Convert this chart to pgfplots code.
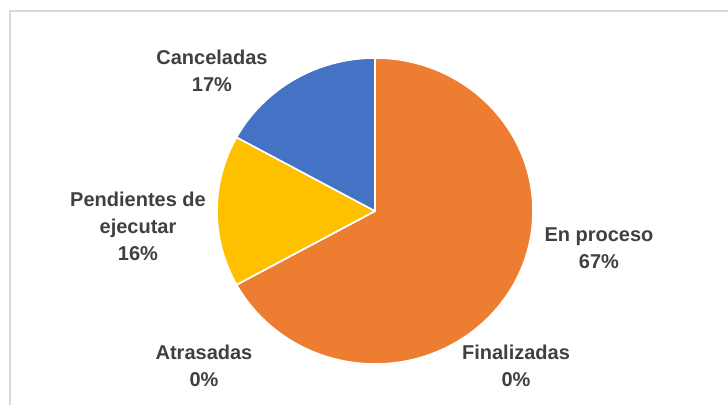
\documentclass[border=0pt]{standalone}
\usepackage{pgfplots}
\usepackage{pgfplotstable}
\pgfplotsset{compat=1.18}
\usepackage{fontspec}
\setmainfont{Liberation Sans}

\definecolor{cOrange}{HTML}{ED7D31}
\definecolor{cYellow}{HTML}{FFC000}
\definecolor{cBlue}{HTML}{4472C4}
\definecolor{cText}{HTML}{404040}
\definecolor{cFrame}{HTML}{D9D9D9}

\tikzset{lbl/.style={font=\bfseries\fontsize{10}{13.5}\selectfont,
    text=cText, align=center}}

% share of each state, in percent, clockwise from 12 o'clock
\pgfplotstableread[col sep=comma]{
name,value,colour
En proceso,67,cOrange
Finalizadas,0,cOrange
Atrasadas,0,cOrange
Pendientes,16,cYellow
Canceladas,17,cBlue
}\piedata

\begin{document}
\begin{tikzpicture}
\useasboundingbox (0,0) rectangle (364pt,202pt);

% start/end angle of every slice
\pgfplotstablegetrowsof{\piedata}
\pgfmathtruncatemacro\nrows{\pgfplotsretval-1}
\def\cum{0}
\pgfplotsforeachungrouped \i in {0,...,\nrows}{%
  \pgfplotstablegetelem{\i}{value}\of\piedata \let\v\pgfplotsretval
  \pgfplotstablegetelem{\i}{colour}\of\piedata
  \expandafter\xdef\csname col\i\endcsname{\pgfplotsretval}%
  \pgfmathsetmacro\sa{90-3.6*\cum}%
  \pgfmathsetmacro\ea{90-3.6*(\cum+\v)}%
  \pgfmathsetmacro\cum{\cum+\v}%
  \expandafter\xdef\csname sa\i\endcsname{\sa}%
  \expandafter\xdef\csname ea\i\endcsname{\ea}%
}

\begin{axis}[
    scale only axis,
    width=364pt, height=202pt,
    xmin=0, xmax=728, ymin=0, ymax=404,
    hide axis, clip=true,
]
  % chart frame (right and bottom edges are cut off)
  \draw[cFrame, line width=1pt] (axis cs:9.5,-20) -- (axis cs:9.5,393) -- (axis cs:760,393);

  \pgfplotsinvokeforeach{0,...,4}{%
    \edef\temp{\noexpand\filldraw[fill=\csname col#1\endcsname, draw=white, line width=0.8pt, line join=round]
      (axis cs:375,193) -- ++(\csname sa#1\endcsname:79pt and 76.5pt)
      arc[start angle=\csname sa#1\endcsname, end angle=\csname ea#1\endcsname, x radius=79pt, y radius=76.5pt] -- cycle;}%
    \temp
  }

  \node[lbl] at (axis cs:599,156) {En proceso\\67\%};
  \node[lbl] at (axis cs:516,38) {Finalizadas\\0\%};
  \node[lbl] at (axis cs:204,38) {Atrasadas\\0\%};
  \node[lbl] at (axis cs:138,178) {Pendientes de\\ejecutar\\16\%};
  \node[lbl] at (axis cs:212,333.5) {Canceladas\\17\%};
\end{axis}
\end{tikzpicture}
\end{document}
